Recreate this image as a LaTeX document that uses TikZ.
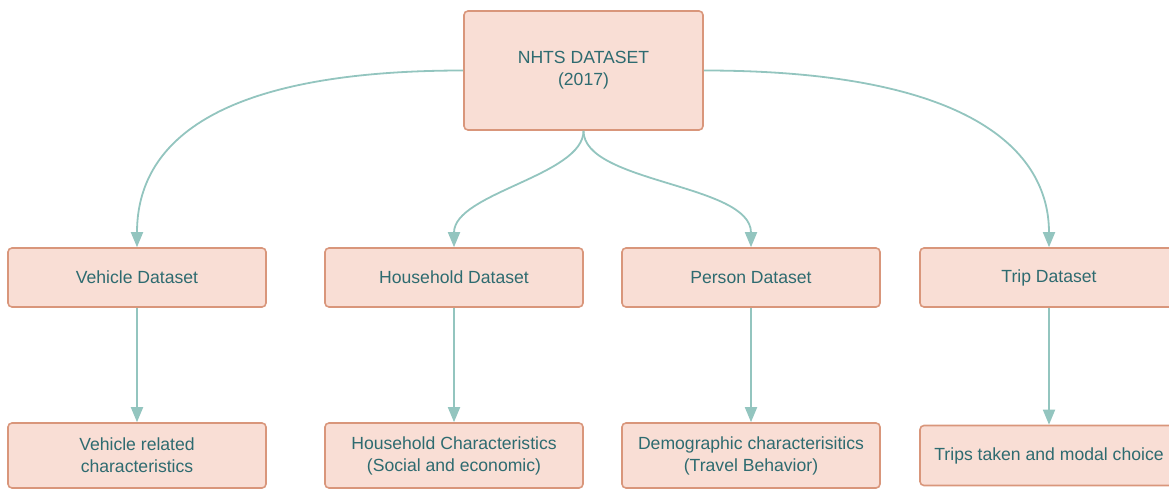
\documentclass[tikz,border=0pt]{standalone}
\usepackage{fontspec}
\setmainfont{Liberation Sans}
\usetikzlibrary{positioning,arrows.meta}
\definecolor{boxfill}{HTML}{F9DED5}
\definecolor{boxline}{HTML}{D9967B}
\definecolor{boxtext}{HTML}{2E6B70}
\definecolor{linkcol}{HTML}{93C5BF}

\begin{document}
\begin{tikzpicture}[x=1pt,y=1pt,on grid,
    data/.style={draw=boxline,fill=boxfill,line width=1.6pt,rounded corners=4pt,
      text=boxtext,align=center,minimum width=258pt,minimum height=59pt,
      font=\fontsize{17.6}{22}\selectfont},
    link/.style={draw=linkcol,line width=1.8pt,
      -{Triangle[length=15pt,width=12pt,fill=linkcol]}}]
   \useasboundingbox (0,0) rectangle (1169,-489);
   % top
   \node[data,minimum width=239pt,minimum height=119pt] (nhts) at (583.5,-70.5) {NHTS DATASET\\(2017)};
   % datasets
   \node[data] (veh) at (137,-277.5) {Vehicle Dataset};
   \node[data] (hh)   [right=317pt of veh] {Household Dataset};
   \node[data] (per)  [right=297pt of hh] {Person Dataset};
   \node[data] (trip) [right=298pt of per] {Trip Dataset};
   % contents
   \node[data,minimum height=65pt] (vehc) [below=178pt of veh] {Vehicle related\\characteristics};
   \node[data,minimum height=65pt] (hhc)  [below=178pt of hh] {Household Characteristics\\(Social and economic)};
   \node[data,minimum height=65pt] (perc) [below=178pt of per] {Demographic characterisitics\\(Travel Behavior)};
   \node[data,minimum height=60pt] (tripc) [below=178pt of trip] {Trips taken and modal choice};
    \path
    (nhts) edge [link,out=180,in=90,out looseness=1.8,in looseness=0.66] (veh)
           edge [link,out=-90,in=90,out looseness=0.66,in looseness=0.8] (hh)
           edge [link,out=-90,in=90,out looseness=0.66,in looseness=0.8] (per)
           edge [link,out=0,in=90,out looseness=1.75,in looseness=0.64] (trip)
    (veh) edge [link] (vehc)
    (hh) edge [link] (hhc)
    (per) edge [link] (perc)
    (trip) edge [link] (tripc);
\end{tikzpicture}
\end{document}
